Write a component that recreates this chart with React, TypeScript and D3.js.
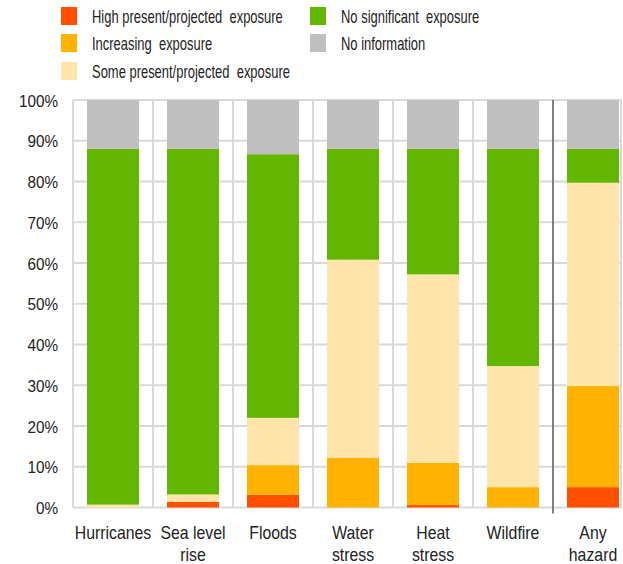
import React from 'react'
import * as d3 from 'd3'

// exposure shares, percent of assets, stacked bottom -> top
const categories = ['Hurricanes', 'Sea level rise', 'Floods', 'Water stress', 'Heat stress', 'Wildfire', 'Any hazard']
const categoryLines = [['Hurricanes'], ['Sea level', 'rise'], ['Floods'], ['Water', 'stress'], ['Heat', 'stress'], ['Wildfire'], ['Any', 'hazard']]
const high = [0, 1.4, 3.1, 0, 0.6, 0, 5.0]
const increasing = [0, 0, 7.3, 12.2, 10.4, 5.0, 24.8]
const some = [0.7, 1.8, 11.6, 48.6, 46.2, 29.7, 49.9]
const noSignificant = [87.3, 84.8, 64.7, 27.2, 30.8, 53.3, 8.3]
const noInfo = [12, 12, 13.3, 12, 12, 12, 12]
const yTicks = [0, 10, 20, 30, 40, 50, 60, 70, 80, 90, 100]

const seriesKeys = ['high', 'increasing', 'some', 'none', 'noinfo']
const seriesNames = [
  'High present/projected  exposure',
  'Increasing  exposure',
  'Some present/projected  exposure',
  'No significant  exposure',
  'No information'
]
const colors = ['#ff5000', '#ffb300', '#ffe5a9', '#63b700', '#bfbfbf']

const W = 623
const H = 564
const font = '"Liberation Sans", Arial, sans-serif'

export default function App() {
  const rows = categories.map((c, i) => ({
    cat: c,
    high: high[i],
    increasing: increasing[i],
    some: some[i],
    none: noSignificant[i],
    noinfo: noInfo[i]
  }))
  const stacked = d3.stack<any>().keys(seriesKeys)(rows)

  const x = d3.scaleBand().domain(categories).range([73, 633]).paddingInner(0.35).paddingOuter(0.175)
  const y = d3.scaleLinear().domain([0, 100]).range([507.5, 100])
  const step = x.step()
  const x0 = x.range()[0]
  const right = 621
  const boundaries = d3.range(0, categories.length).map(i => x0 + i * step)

  const legendPos = [
    [61, 16], [61, 43], [61, 71], [310, 16], [310, 43]
  ]

  return (
    <svg width={W} height={H} style={{ position: 'absolute', left: 0, top: 0, background: '#fff' }}>
      {/* grid */}
      <g stroke="#d9d9d9" strokeWidth={2}>
        {yTicks.map(t => (
          <line key={'h' + t} x1={x0} x2={right + 1} y1={y(t)} y2={y(t)} />
        ))}
        {boundaries.map((b, i) => (
          <line key={'v' + i} x1={b} x2={b} y1={y(100)} y2={y(0)} />
        ))}
        <line x1={right} x2={right} y1={y(100)} y2={y(0)} />
      </g>
      {/* separator before aggregate */}
      <line x1={x0 + 6 * step} x2={x0 + 6 * step} y1={y(100)} y2={y(0) + 6} stroke="#808080" strokeWidth={2} />

      {/* bars */}
      {stacked.map((s, si) => (
        <g key={s.key} fill={colors[si]}>
          {s.map((d, i) => (
            <rect
              key={i}
              x={x(categories[i])}
              width={x.bandwidth()}
              y={y(d[1])}
              height={Math.max(0, y(d[0]) - y(d[1]))}
            />
          ))}
        </g>
      ))}

      {/* y axis labels */}
      <g fill="#222" fontFamily={font} fontSize={17}>
        {yTicks.map(t => (
          <text key={t} textAnchor="end" transform={`translate(58,${y(t) + 6.5}) scale(0.9,1)`}>
            {t}%
          </text>
        ))}
      </g>

      {/* x axis labels */}
      <g fill="#222" fontFamily={font} fontSize={18}>
        {categoryLines.map((lines, i) =>
          lines.map((l, j) => (
            <text
              key={i + '-' + j}
              textAnchor="middle"
              transform={`translate(${x(categories[i])! + x.bandwidth() / 2},${539 + j * 22}) scale(0.88,1)`}
            >
              {l}
            </text>
          ))
        )}
      </g>

      {/* legend */}
      <g fontFamily={font} fontSize={18} fill="#222">
        {seriesNames.map((n, i) => (
          <g key={n}>
            <rect x={legendPos[i][0]} y={legendPos[i][1] - 9} width={16} height={18} fill={colors[i]} />
            <text transform={`translate(${legendPos[i][0] + 31},${legendPos[i][1] + 7}) scale(0.72,1)`} style={{ whiteSpace: 'pre' }}>
              {n}
            </text>
          </g>
        ))}
      </g>
    </svg>
  )
}
